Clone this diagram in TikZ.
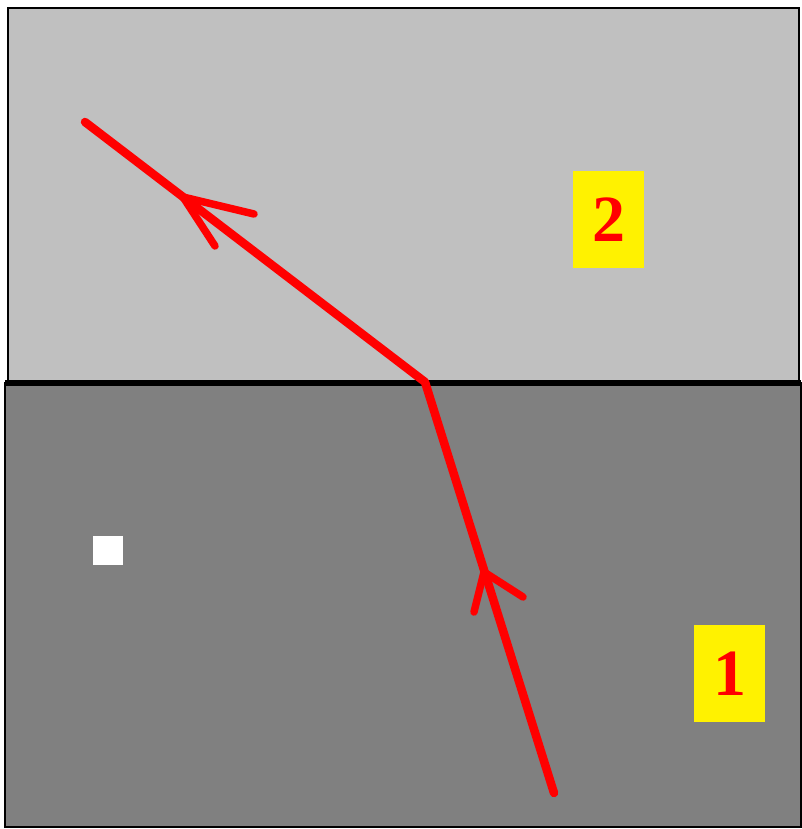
\documentclass[tikz,border=0pt]{standalone}
\usepackage{fontspec}
\setmainfont{Liberation Serif}
\begin{document}
\begin{tikzpicture}[x=1pt,y=-1pt,
  medium/.style={draw=black,line width=2.5pt},
  ray/.style={draw=red,line width=8.5pt,line cap=round,line join=round},
  barb/.style={draw=red,line width=7.5pt,line cap=round},
  label/.style={fill=yellow,text=red,font=\fontsize{66}{66}\selectfont\bfseries,
    minimum width=71pt,minimum height=97pt,inner sep=0pt}]
\useasboundingbox (0,0) rectangle (802,829);
\definecolor{lightmed}{HTML}{C0C0C0}
\definecolor{darkmed}{HTML}{808080}
% media
\path[medium,fill=lightmed] (8,8) rectangle (799,383);
\path[medium,fill=darkmed] (5,383) rectangle (801,827);
\coordinate (il) at (5,383);
\coordinate (ir) at (801,383);
\draw[line width=5.5pt] (il) -- (ir);
% white square
\node[fill=white,minimum width=30pt,minimum height=29pt,inner sep=0pt] (sq) at (108,550.5) {};
% ray
\coordinate (s) at (85,122);
\coordinate (o) at (425,382);
\coordinate (e) at (554,793);
\draw[ray] (e) -- (o) -- (s);
% arrowheads
\coordinate (t2) at (183,197);
\coordinate (b2a) at (254,214);
\coordinate (b2b) at (215,246);
\draw[barb] (b2a) -- (t2) -- (b2b);
\coordinate (t1) at (484,572);
\coordinate (b1a) at (523,597);
\coordinate (b1b) at (474,612);
\draw[barb] (b1a) -- (t1) -- (b1b);
% labels
\node[label] (n2) at (608.5,219.5) {2};
\node[label] (n1) at (729.5,673.5) {1};
\end{tikzpicture}
\end{document}
